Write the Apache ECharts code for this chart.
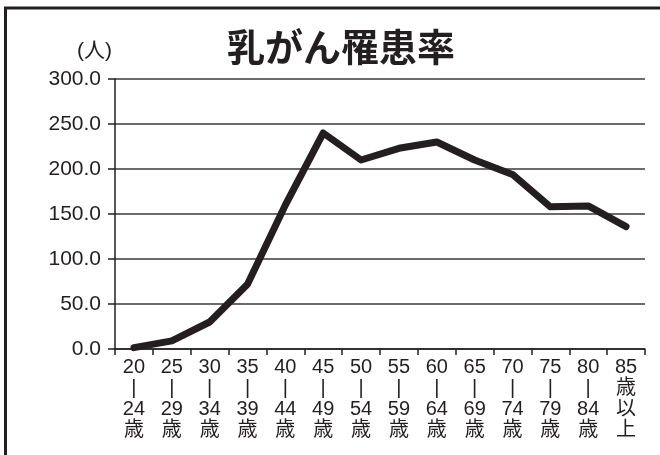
<!DOCTYPE html>
<html><head><meta charset="utf-8">
<script src="https://cdn.jsdelivr.net/npm/echarts@6/dist/echarts.min.js"></script>
<style>html,body{margin:0;padding:0;background:#fff}#c{width:660px;height:455px}</style>
</head><body><div id="c"></div>
<script>
const title = '乳がん罹患率';
const unitLabel = '(人)';
const categories = ['20\n|\n24\n歳','25\n|\n29\n歳','30\n|\n34\n歳','35\n|\n39\n歳','40\n|\n44\n歳','45\n|\n49\n歳','50\n|\n54\n歳','55\n|\n59\n歳','60\n|\n64\n歳','65\n|\n69\n歳','70\n|\n74\n歳','75\n|\n79\n歳','80\n|\n84\n歳','85\n歳\n以\n上'];
const incidence = [1.5, 9.0, 30.0, 72.0, 160.0, 240.0, 210.0, 223.0, 230.0, 210.0, 194.0, 158.0, 159.0, 136.0];
const yMin = 0, yMax = 300, yStep = 50;

const FONT = '"Liberation Sans", "Noto Sans CJK JP", sans-serif';
const INK = '#231f20';
const chart = echarts.init(document.getElementById('c'));
chart.setOption({
  backgroundColor: '#fff',
  animation: false,
  title: {
    text: title, left: 336, top: 23, textAlign: 'center',
    textStyle: { fontFamily: '"Noto Sans CJK JP", sans-serif', fontWeight: 'bold', fontSize: 38, color: INK }
  },
  graphic: [
    { type: 'rect', shape: { x: 5.5, y: 8, width: 700, height: 500 }, style: { fill: 'none', stroke: INK, lineWidth: 3 }, silent: true, z: 100 },
    { type: 'text', left: 77, top: 41, style: { text: unitLabel, font: '21px "Liberation Sans", "Noto Sans CJK JP", sans-serif', fill: INK } }
  ],
  grid: { left: 115, right: 15, top: 79, bottom: 106 },
  xAxis: {
    type: 'category', data: categories, boundaryGap: true,
    axisLine: { lineStyle: { color: INK, width: 1.5 } },
    axisTick: { show: true, length: 6, lineStyle: { color: INK, width: 1.5 } },
    axisLabel: { interval: 0, margin: 8, fontFamily: FONT, fontSize: 20, lineHeight: 21, color: INK }
  },
  yAxis: {
    type: 'value', min: yMin, max: yMax, interval: yStep,
    axisLine: { show: true, lineStyle: { color: INK, width: 1.5 } },
    axisTick: { show: true, length: 7, lineStyle: { color: INK, width: 1.5 } },
    axisLabel: { margin: 14, fontFamily: FONT, fontSize: 21, color: INK, formatter: v => v.toFixed(1) },
    splitLine: { show: true, lineStyle: { color: '#3a3a3a', width: 1.5 } }
  },
  series: [{
    type: 'line', data: incidence, symbol: 'none',
    lineStyle: { color: INK, width: 7, cap: 'round', join: 'round' }
  }]
});
</script></body></html>
